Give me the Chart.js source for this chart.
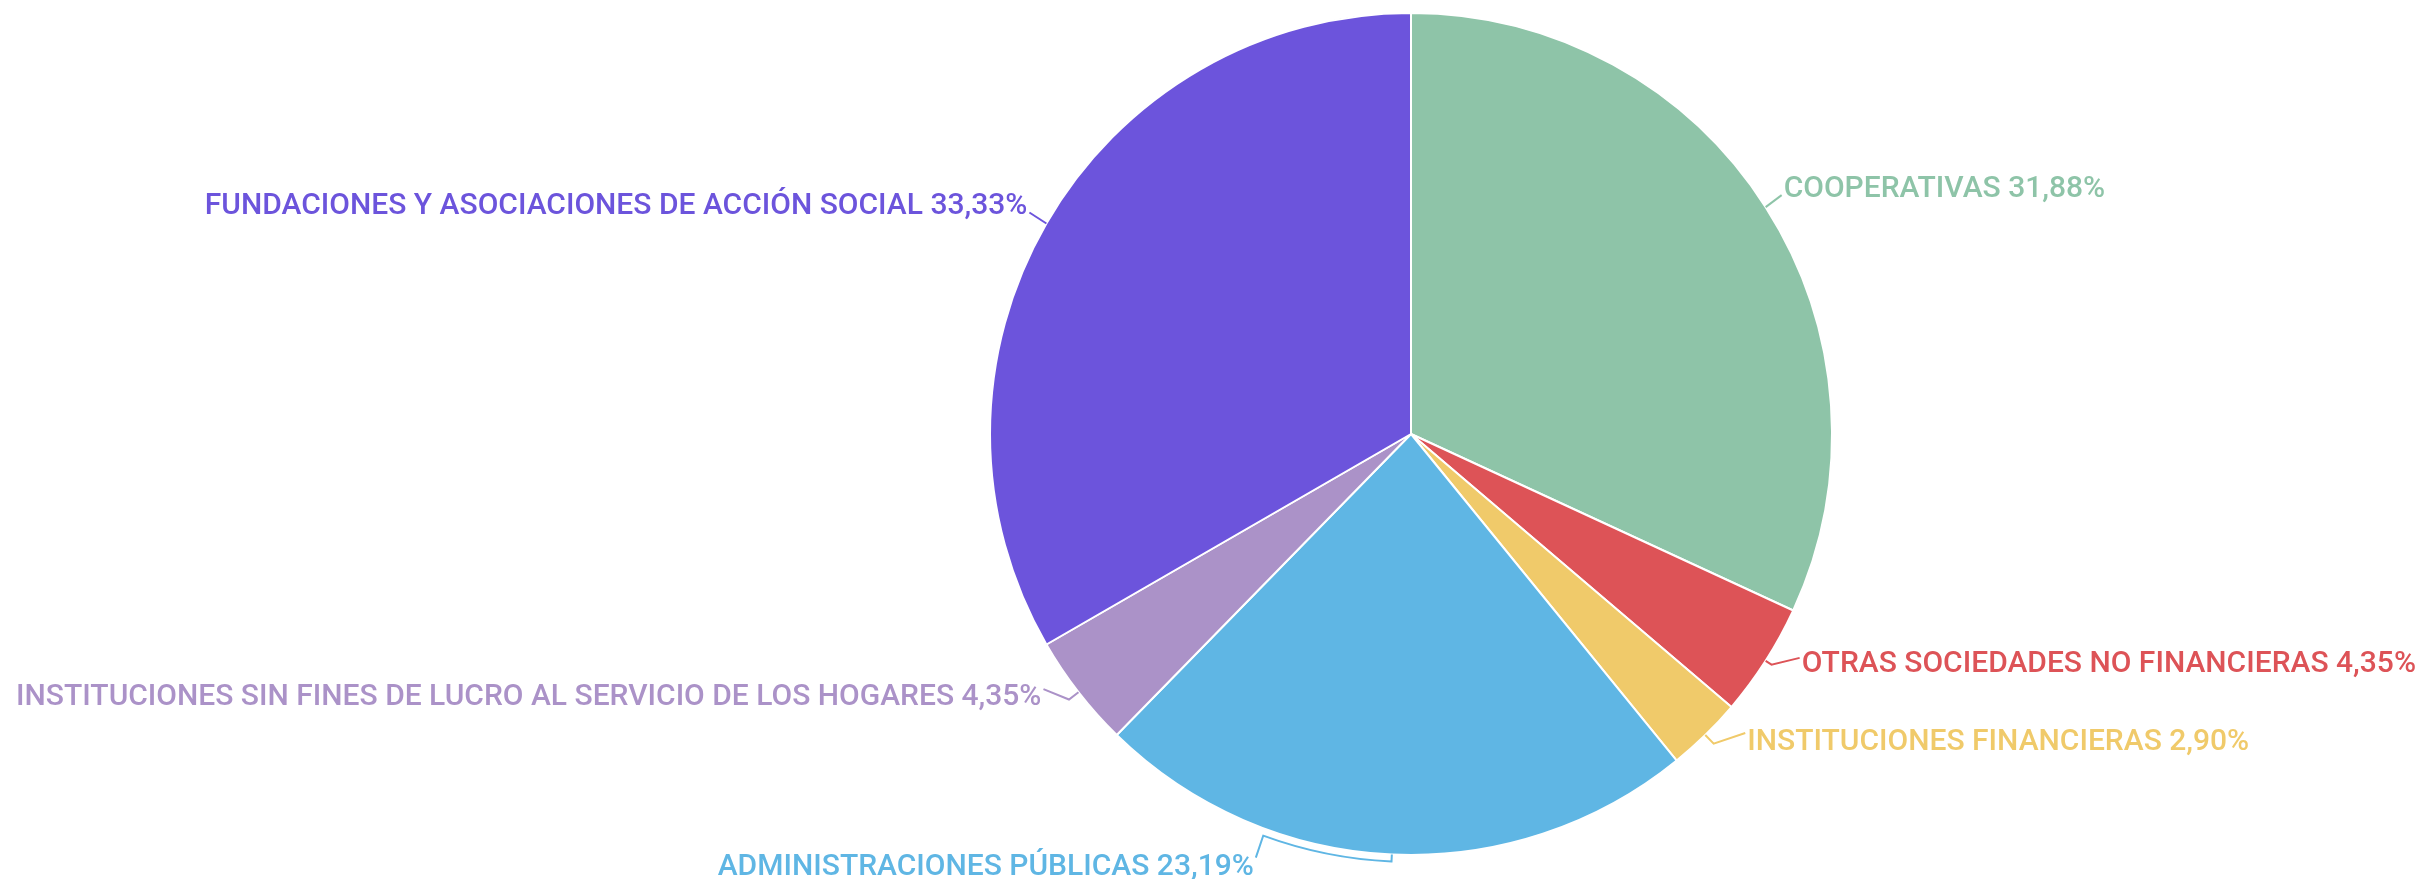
<!DOCTYPE html>
<html>
<head>
<meta charset="utf-8">
<script src="https://cdn.jsdelivr.net/npm/chart.js@4/dist/chart.umd.min.js"></script>
<style>
  html, body { margin: 0; padding: 0; background: #fff; }
  #wrap { width: 2420px; height: 879px; }
</style>
</head>
<body>
<div id="wrap"><canvas id="pieChart"></canvas></div>
<script>
// data
const categories = [
  'COOPERATIVAS',
  'OTRAS SOCIEDADES NO FINANCIERAS',
  'INSTITUCIONES FINANCIERAS',
  'ADMINISTRACIONES PÚBLICAS',
  'INSTITUCIONES SIN FINES DE LUCRO AL SERVICIO DE LOS HOGARES',
  'FUNDACIONES Y ASOCIACIONES DE ACCIÓN SOCIAL'
];
const counts = [22, 3, 2, 16, 3, 23];
const sliceColors = ['#8ec4a8', '#dd5357', '#f0ca6a', '#5fb6e4', '#ab92c8', '#6c54dc'];

// label placement relative to the slice's outer mid point
// end: [dx, dy] of connector end, ty: text centre offset, elbow: radial px, via: angle (deg) to run along the rim
const labelLayout = [
  { end: [16, -12], ty: -6, elbow: 0 },
  { end: [34, -3], ty: 7, elbow: 7 },
  { end: [40, -2], ty: 9, elbow: 12 },
  { end: [-136, 3], ty: 10, elbow: 7, via: 110.2 },
  { end: [-35, -3], ty: 8, elbow: 12 },
  { end: [-17, -11], ty: -6, elbow: 0 }
];

const total = counts.reduce((a, b) => a + b, 0);
const pct = v => (v / total * 100).toFixed(2).replace('.', ',') + '%';

const outLabels = {
  id: 'outLabels',
  afterDatasetsDraw(chart) {
    const ctx = chart.ctx;
    const meta = chart.getDatasetMeta(0);
    ctx.save();
    ctx.font = '500 30px Roboto';
    ctx.textBaseline = 'middle';
    meta.data.forEach((arc, i) => {
      const p = arc.getProps(['x', 'y', 'startAngle', 'endAngle', 'outerRadius'], true);
      const mid = (p.startAngle + p.endAngle) / 2;
      const ax = p.x + Math.cos(mid) * p.outerRadius;
      const ay = p.y + Math.sin(mid) * p.outerRadius;
      const lay = labelLayout[i];
      const r2 = p.outerRadius + lay.elbow;
      const ex = p.x + Math.cos(mid) * r2;
      const ey = p.y + Math.sin(mid) * r2;
      const tx = ax + lay.end[0];
      const ty = ay + lay.end[1];
      const color = sliceColors[i];
      ctx.strokeStyle = color;
      ctx.lineWidth = 2;
      ctx.beginPath();
      ctx.moveTo(ax, ay);
      ctx.lineTo(ex, ey);
      if (lay.via !== undefined) {
        ctx.arc(p.x, p.y, r2, mid, lay.via * Math.PI / 180, false);
      }
      ctx.lineTo(tx, ty);
      ctx.stroke();
      const left = lay.end[0] > 0;
      ctx.fillStyle = color;
      ctx.textAlign = left ? 'left' : 'right';
      ctx.fillText(categories[i] + ' ' + pct(counts[i]), tx + (left ? 2 : -2), ty + lay.ty);
    });
    ctx.restore();
  }
};

new Chart(document.getElementById('pieChart'), {
  type: 'pie',
  data: {
    labels: categories,
    datasets: [{
      data: counts,
      backgroundColor: sliceColors,
      borderColor: '#ffffff',
      borderWidth: 2
    }]
  },
  options: {
    responsive: true,
    maintainAspectRatio: false,
    animation: false,
    layout: { padding: { left: 989, right: 587, top: 12, bottom: 23 } },
    plugins: {
      legend: { display: false },
      tooltip: { enabled: false }
    }
  },
  plugins: [outLabels]
});
</script>
</body>
</html>
